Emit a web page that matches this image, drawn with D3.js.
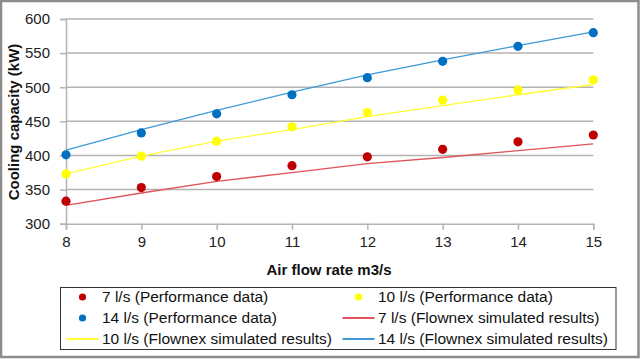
<!DOCTYPE html>
<html>
<head>
<meta charset="utf-8">
<script src="https://cdn.jsdelivr.net/npm/d3@7"></script>
<style>
  html, body { margin: 0; padding: 0; background: #fff; }
  svg { display: block; }
  text { font-family: "Liberation Sans", Arial, sans-serif; }
</style>
</head>
<body>
<div id="chart"></div>
<script>
// ---- data ----
const airFlow = [8, 9, 10, 11, 12, 13, 14, 15];
const perf7  = [333, 353, 369, 385, 398, 409, 420, 430];
const perf10 = [373, 399, 421, 442, 463, 481, 496, 511];
const perf14 = [401, 433, 461, 489, 514, 538, 560, 580];
const sim7   = [327, 345, 362, 375, 388, 397, 407, 417];
const sim10  = [373, 399, 421, 438, 457, 473, 489, 504];
const sim14  = [408, 438, 466, 493, 518, 540, 561, 581];
const yTicks = [300, 350, 400, 450, 500, 550, 600];
const xTicks = [8, 9, 10, 11, 12, 13, 14, 15];
const legendLabels = [
  "7 l/s (Performance data)", "10 l/s (Performance data)",
  "14 l/s (Performance data)", "7 l/s (Flownex simulated results)",
  "10 l/s (Flownex simulated results)", "14 l/s (Flownex simulated results)"
];

const W = 640, H = 359;
const ptColors = { p7: "#C00000", p10: "#FFFF00", p14: "#0070C0" };
const lnColors = { s7: "#E0535A", s10: "#FFFF33", s14: "#3D9AD6" };

const svg = d3.select("#chart").append("svg").attr("width", W).attr("height", H);

// outer frame
svg.append("rect").attr("x", 1).attr("y", 1).attr("width", 637.5).attr("height", 356)
  .attr("fill", "#fff").attr("stroke", "#8c8c8c").attr("stroke-width", 2.5);

const x = d3.scaleLinear().domain([8, 15]).range([66, 593.3]);
const y = d3.scaleLinear().domain([300, 600]).range([223.7, 19]);

const gridColor = "#b3b3b3";

// gridlines
svg.append("g").selectAll("line").data(yTicks.filter(t => t !== 300)).join("line")
  .attr("x1", x(8)).attr("x2", x(15))
  .attr("y1", d => y(d)).attr("y2", d => y(d))
  .attr("stroke", gridColor).attr("stroke-width", 1.5);

// y axis
const yAxis = svg.append("g").attr("transform", `translate(${x(8)},0)`)
  .call(d3.axisLeft(y).tickValues(yTicks).tickSize(6).tickPadding(10));
yAxis.select(".domain").attr("stroke", gridColor).attr("stroke-width", 1.5);
yAxis.selectAll(".tick line").attr("stroke", gridColor).attr("stroke-width", 1.5);
yAxis.selectAll("text").attr("font-size", 15).attr("fill", "#222")
  .style("font-family", "'Liberation Sans', Arial, sans-serif");

// x axis
const xAxis = svg.append("g").attr("transform", `translate(0,${y(300)})`)
  .call(d3.axisBottom(x).tickValues(xTicks).tickSize(6).tickPadding(7).tickFormat(d3.format("d")));
xAxis.select(".domain").attr("stroke", gridColor).attr("stroke-width", 1.5);
xAxis.selectAll(".tick line").attr("stroke", gridColor).attr("stroke-width", 1.5);
xAxis.selectAll("text").attr("font-size", 15).attr("fill", "#222")
  .style("font-family", "'Liberation Sans', Arial, sans-serif");

// axis titles
svg.append("text").attr("x", 329).attr("y", 275).attr("text-anchor", "middle")
  .attr("font-size", 15).attr("font-weight", "bold").attr("fill", "#111")
  .text("Air flow rate m3/s");
svg.append("text").attr("transform", "translate(19,122) rotate(-90)")
  .attr("text-anchor", "middle").attr("font-size", 15).attr("font-weight", "bold").attr("fill", "#111")
  .text("Cooling capacity (kW)");

// lines
const line = d3.line().x((d, i) => x(airFlow[i])).y(d => y(d));
[[sim7, lnColors.s7], [sim10, lnColors.s10], [sim14, lnColors.s14]].forEach(([arr, c]) => {
  svg.append("path").datum(arr).attr("d", line).attr("fill", "none")
    .attr("stroke", c).attr("stroke-width", 1.3);
});

// points
[[perf7, ptColors.p7], [perf10, ptColors.p10], [perf14, ptColors.p14]].forEach(([arr, c]) => {
  svg.append("g").selectAll("circle").data(arr).join("circle")
    .attr("cx", (d, i) => x(airFlow[i])).attr("cy", d => y(d)).attr("r", 4.6)
    .attr("fill", c);
});

// legend
svg.append("rect").attr("x", 60.5).attr("y", 287.5).attr("width", 555.5).attr("height", 62)
  .attr("fill", "#fff").attr("stroke", "#333").attr("stroke-width", 1);

const legendItems = [
  { type: "pt", color: ptColors.p7 }, { type: "pt", color: ptColors.p10 },
  { type: "pt", color: ptColors.p14 }, { type: "ln", color: lnColors.s7 },
  { type: "ln", color: lnColors.s10 }, { type: "ln", color: lnColors.s14 }
];
const colX = [66.5, 342.5];
const rowY = [297, 318, 339];
legendItems.forEach((it, i) => {
  const cx = colX[i % 2], cy = rowY[Math.floor(i / 2)];
  const g = svg.append("g");
  if (it.type === "pt") {
    g.append("circle").attr("cx", cx + 16).attr("cy", cy).attr("r", 3.6).attr("fill", it.color);
  } else {
    g.append("line").attr("x1", cx).attr("x2", cx + 32).attr("y1", cy).attr("y2", cy)
      .attr("stroke", it.color).attr("stroke-width", 2);
  }
  g.append("text").attr("x", cx + 35.5).attr("y", cy).attr("dy", "0.35em")
    .attr("font-size", 15.5).attr("fill", "#111").text(legendLabels[i]);
});
</script>
</body>
</html>
